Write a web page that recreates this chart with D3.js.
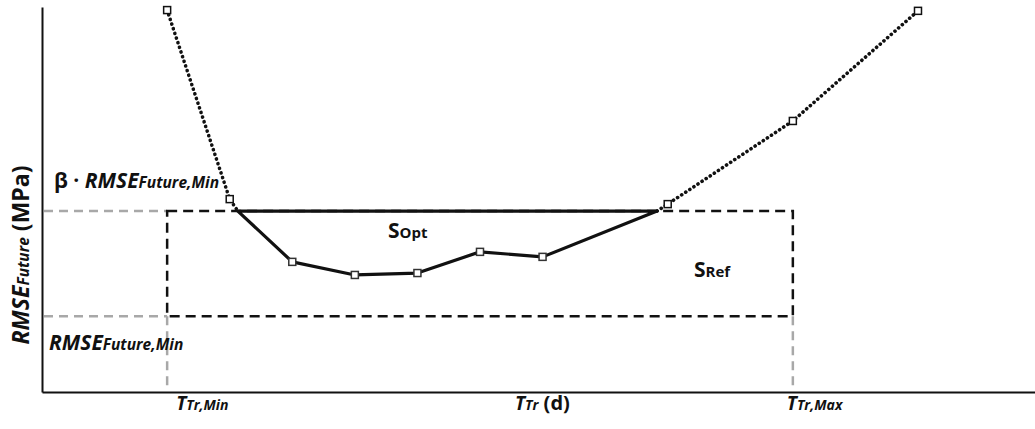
<!DOCTYPE html>
<html>
<head>
<meta charset="utf-8">
<script src="https://cdn.jsdelivr.net/npm/d3@7"></script>
<style>
  body { margin: 0; background: #fff; }
  text { font-family: "Open Sans", Lato, sans-serif; font-weight: bold; fill: #111; }
</style>
</head>
<body>
<div id="chart"></div>
<script>
// Training period steps (T_Tr) and future RMSE (arbitrary units)
const tSteps = [0, 1, 2, 3, 4, 5, 6, 8, 10, 12];
const rmseValues = [99.2, 50.1, 33.8, 30.4, 30.9, 36.4, 35.1, 48.8, 70.4, 99.0];

// Reference levels and limits
const rmseMin = 19.7;
const betaRmseMin = 47.0;
const tMin = 0, tMax = 10;
// where the curve crosses beta * RMSE_min (start / end of S_opt)
const optBounds = [1.13, 7.83];

const width = 1035, height = 429;
const margin = { top: 7, right: 0, bottom: 37, left: 42 };

const svg = d3.select("#chart")
  .append("svg")
  .attr("width", width)
  .attr("height", height);

const x = d3.scaleLinear()
  .domain([-2, 13.87])
  .range([margin.left, width - margin.right]);

const y = d3.scaleLinear()
  .domain([0, 100])
  .range([height - margin.bottom, margin.top]);

const points = tSteps.map((t, i) => ({ t: t, v: rmseValues[i] }));

// Axes (no ticks, just the lines)
svg.append("g")
  .attr("transform", `translate(0,${y(0)})`)
  .call(d3.axisBottom(x).tickValues([]).tickSizeOuter(0))
  .select(".domain")
  .attr("stroke", "#111")
  .attr("stroke-width", 2);

svg.append("g")
  .attr("transform", `translate(${x(-2)},0)`)
  .call(d3.axisLeft(y).tickValues([]).tickSizeOuter(0))
  .select(".domain")
  .attr("stroke", "#111")
  .attr("stroke-width", 2);

// Grey guide lines
const grey = svg.append("g")
  .attr("stroke", "#a8a8a8")
  .attr("stroke-width", 2.5)
  .attr("stroke-dasharray", "9,6")
  .attr("fill", "none");

[rmseMin, betaRmseMin].forEach(v => {
  grey.append("line")
    .attr("x1", x(-2) + 2).attr("x2", x(tMin))
    .attr("y1", y(v)).attr("y2", y(v));
});
[tMin, tMax].forEach(t => {
  grey.append("line")
    .attr("x1", x(t)).attr("x2", x(t))
    .attr("y1", y(rmseMin)).attr("y2", y(0) - 1);
});

// Reference rectangle S_ref
svg.append("rect")
  .attr("x", x(tMin))
  .attr("y", y(betaRmseMin))
  .attr("width", x(tMax) - x(tMin))
  .attr("height", y(rmseMin) - y(betaRmseMin))
  .attr("fill", "none")
  .attr("stroke", "#111")
  .attr("stroke-width", 2.5)
  .attr("stroke-dasharray", "10,6");

const line = d3.line()
  .x(d => x(d.t))
  .y(d => y(d.v));

// Dotted parts of the curve (outside S_opt)
const leftDotted = points.filter(d => d.t <= optBounds[0])
  .concat([{ t: optBounds[0], v: betaRmseMin }]);
const rightDotted = [{ t: optBounds[1], v: betaRmseMin }]
  .concat(points.filter(d => d.t >= optBounds[1]));

[leftDotted, rightDotted].forEach(seg => {
  svg.append("path")
    .datum(seg)
    .attr("fill", "none")
    .attr("stroke", "#111")
    .attr("stroke-width", 3.6)
    .attr("stroke-linecap", "round")
    .attr("stroke-dasharray", "0.1,4.8")
    .attr("d", line);
});

// Solid S_opt area outline
const optSeg = [{ t: optBounds[0], v: betaRmseMin }]
  .concat(points.filter(d => d.t > optBounds[0] && d.t < optBounds[1]))
  .concat([{ t: optBounds[1], v: betaRmseMin }]);

svg.append("path")
  .datum(optSeg)
  .attr("fill", "none")
  .attr("stroke", "#111")
  .attr("stroke-width", 3.2)
  .attr("stroke-linejoin", "round")
  .attr("d", d => line(d) + "Z");

// Markers
svg.append("g")
  .selectAll("rect")
  .data(points)
  .join("rect")
  .attr("x", d => x(d.t) - 3.5)
  .attr("y", d => y(d.v) - 3.5)
  .attr("width", 7)
  .attr("height", 7)
  .attr("fill", "#fff")
  .attr("stroke", d => (d.t > optBounds[0] && d.t < optBounds[1]) ? "#333" : "#111")
  .attr("stroke-width", 1.5);

// Labels
function label(xPos, yPos, parts, transform) {
  const t = svg.append("text")
    .attr("x", xPos)
    .attr("y", yPos);
  if (transform) t.attr("transform", transform).attr("text-anchor", "middle");
  parts.forEach(p => {
    t.append("tspan")
      .attr("font-size", p.size)
      .attr("font-style", p.italic ? "italic" : "normal")
      .text(p.text);
  });
  return t;
}

label(54, y(betaRmseMin) - 23, [
  { text: "β · ", size: 21 },
  { text: "RMSE", size: 21, italic: true },
  { text: "Future,Min", size: 15.5, italic: true }
]);

label(49, y(rmseMin) + 34, [
  { text: "RMSE", size: 21, italic: true },
  { text: "Future,Min", size: 15.5, italic: true }
]);

label(0, 0, [
  { text: "RMSE", size: 23, italic: true },
  { text: "Future", size: 15.5, italic: true },
  { text: " (MPa)", size: 23 }
], `translate(29,255) rotate(-90)`);

label(x(tMin) + 9, y(0) + 18, [
  { text: "T", size: 19, italic: true },
  { text: "Tr,Min", size: 14, italic: true }
]);

label(515, y(0) + 18, [
  { text: "T", size: 19, italic: true },
  { text: "Tr", size: 14, italic: true },
  { text: " (d)", size: 20 }
]);

label(x(tMax) - 6, y(0) + 18, [
  { text: "T", size: 19, italic: true },
  { text: "Tr,Max", size: 14, italic: true }
]);

label(388, 238, [
  { text: "S", size: 21 },
  { text: "Opt", size: 15 }
]);

label(694, 277, [
  { text: "S", size: 21 },
  { text: "Ref", size: 15 }
]);
</script>
</body>
</html>
